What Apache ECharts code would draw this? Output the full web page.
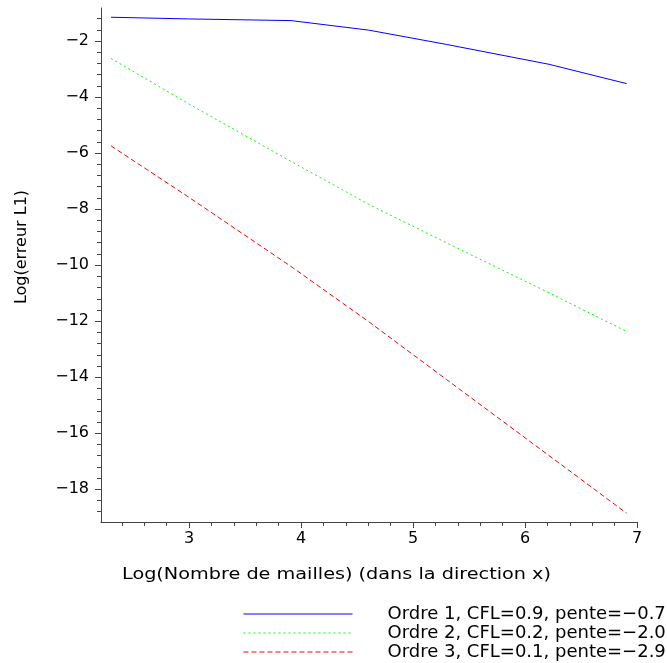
<!DOCTYPE html>
<html>
<head>
<meta charset="utf-8">
<script src="https://cdn.jsdelivr.net/npm/echarts@6/dist/echarts.min.js"></script>
<style>html,body{margin:0;padding:0;background:#fff}#c{width:667px;height:663px}</style>
</head>
<body>
<div id="c"></div>
<script>
// Data: x = Log(N), y = Log(erreur L1)
const xValues = [2.303, 2.996, 3.912, 4.605, 5.298, 6.215, 6.908];
const ordre1 = [-1.15, -1.21, -1.27, -1.61, -2.12, -2.83, -3.52];
const ordre2 = [-2.62, -4.24, -6.30, -7.83, -9.20, -10.99, -12.37];
const ordre3 = [-5.74, -7.57, -10.05, -12.02, -14.08, -16.80, -18.86];
const seriesNames = [
  'Ordre 1, CFL=0.9, pente=\u22120.73',
  'Ordre 2, CFL=0.2, pente=\u22122.03',
  'Ordre 3, CFL=0.1, pente=\u22122.97'
];
const xMajor = [3, 4, 5, 6, 7];
const xMinor = [2.4, 2.6, 2.8, 3.2, 3.4, 3.6, 3.8, 4.2, 4.4, 4.6, 4.8, 5.2, 5.4, 5.6, 5.8, 6.2, 6.4, 6.6, 6.8];
const yMajor = [-2, -4, -6, -8, -10, -12, -14, -16, -18];
const yMinor = [-1.2, -1.6, -2.4, -2.8, -3.2, -3.6, -4.4, -4.8, -5.2, -5.6, -6.4, -6.8, -7.2, -7.6,
  -8.4, -8.8, -9.2, -9.6, -10.4, -10.8, -11.2, -11.6, -12.4, -12.8, -13.2, -13.6,
  -14.4, -14.8, -15.2, -15.6, -16.4, -16.8, -17.2, -17.6, -18.4, -18.8];
const xRange = [2.214, 7];
const yRange = [-19.17, -0.82];
const xTitle = 'Log(Nombre de mailles) (dans la direction x)';
const yTitle = 'Log(erreur L1)';

const FONT = '"DejaVu Sans", Verdana, sans-serif';
const axisCol = '#444';
const gridBox = { left: 101, right: 30, top: 8, bottom: 141 };
const fmtMinus = v => (v < 0 ? '\u2212' + Math.abs(v) : String(v));

function pairs(ys) { return xValues.map((x, i) => [x, ys[i]]); }

// horizontal stretch so the x title spans the same width as in the reference
const mctx = document.createElement('canvas').getContext('2d');
mctx.font = '16px ' + FONT;
const xTitleScale = 429 / mctx.measureText(xTitle).width;

const chart = echarts.init(document.getElementById('c'), null, { renderer: 'canvas' });
chart.setOption({
  animation: false,
  backgroundColor: '#fff',
  grid: [
    Object.assign({ containLabel: false }, gridBox),
    Object.assign({ containLabel: false }, gridBox)
  ],
  xAxis: [
    {
      type: 'value', gridIndex: 0, min: xRange[0], max: xRange[1],
      axisLine: { show: true, onZero: false, lineStyle: { color: axisCol, width: 1 } },
      axisTick: { show: true, inside: false, length: 6, customValues: xMajor, lineStyle: { color: axisCol } },
      axisLabel: { show: true, customValues: xMajor, margin: 9, color: '#000', fontSize: 16, fontFamily: FONT, formatter: fmtMinus },
      splitLine: { show: false }
    },
    {
      type: 'value', gridIndex: 1, min: xRange[0], max: xRange[1],
      axisLine: { show: false, onZero: false },
      axisTick: { show: true, inside: false, length: 4, customValues: xMinor, lineStyle: { color: axisCol } },
      axisLabel: { show: false },
      splitLine: { show: false }
    }
  ],
  yAxis: [
    {
      type: 'value', gridIndex: 0, min: yRange[0], max: yRange[1],
      axisLine: { show: true, onZero: false, lineStyle: { color: axisCol, width: 1 } },
      axisTick: { show: true, inside: false, length: 6, customValues: yMajor, lineStyle: { color: axisCol } },
      axisLabel: { show: true, customValues: yMajor, margin: 12, color: '#000', fontSize: 16, fontFamily: FONT, formatter: fmtMinus },
      splitLine: { show: false }
    },
    {
      type: 'value', gridIndex: 1, min: yRange[0], max: yRange[1],
      axisLine: { show: false, onZero: false },
      axisTick: { show: true, inside: false, length: 4, customValues: yMinor, lineStyle: { color: axisCol } },
      axisLabel: { show: false },
      splitLine: { show: false }
    }
  ],
  legend: {
    orient: 'vertical',
    left: 243,
    top: 605,
    height: 120,
    itemWidth: 109,
    itemHeight: 14,
    itemGap: 1,
    padding: 0,
    lineStyle: { width: 1 },
    itemStyle: { opacity: 0 },
    textStyle: { fontSize: 18, fontFamily: FONT, color: '#000', lineHeight: 14, padding: [0, 0, 0, 30] },
    data: seriesNames
  },
  graphic: [
    {
      type: 'text', x: 122, y: 575, scaleX: xTitleScale,
      style: { text: xTitle, font: '16px ' + FONT, fill: '#000', align: 'left', verticalAlign: 'middle' }
    },
    {
      type: 'text', x: 22, y: 247, rotation: Math.PI / 2,
      style: { text: yTitle, font: '16px ' + FONT, fill: '#000', align: 'center', verticalAlign: 'middle' }
    }
  ],
  series: [
    {
      name: seriesNames[0], type: 'line', xAxisIndex: 0, yAxisIndex: 0,
      data: pairs(ordre1), symbol: 'none', smooth: false,
      lineStyle: { color: '#0000ff', width: 1, type: 'solid' }, itemStyle: { color: '#0000ff' }
    },
    {
      name: seriesNames[1], type: 'line', xAxisIndex: 0, yAxisIndex: 0,
      data: pairs(ordre2), symbol: 'none', smooth: false,
      lineStyle: { color: '#00ff00', width: 1, type: [2, 3] }, itemStyle: { color: '#00ff00' }
    },
    {
      name: seriesNames[2], type: 'line', xAxisIndex: 0, yAxisIndex: 0,
      data: pairs(ordre3), symbol: 'none', smooth: false,
      lineStyle: { color: '#ff0000', width: 1, type: [5, 3] }, itemStyle: { color: '#ff0000' }
    }
  ]
});
</script>
</body>
</html>
